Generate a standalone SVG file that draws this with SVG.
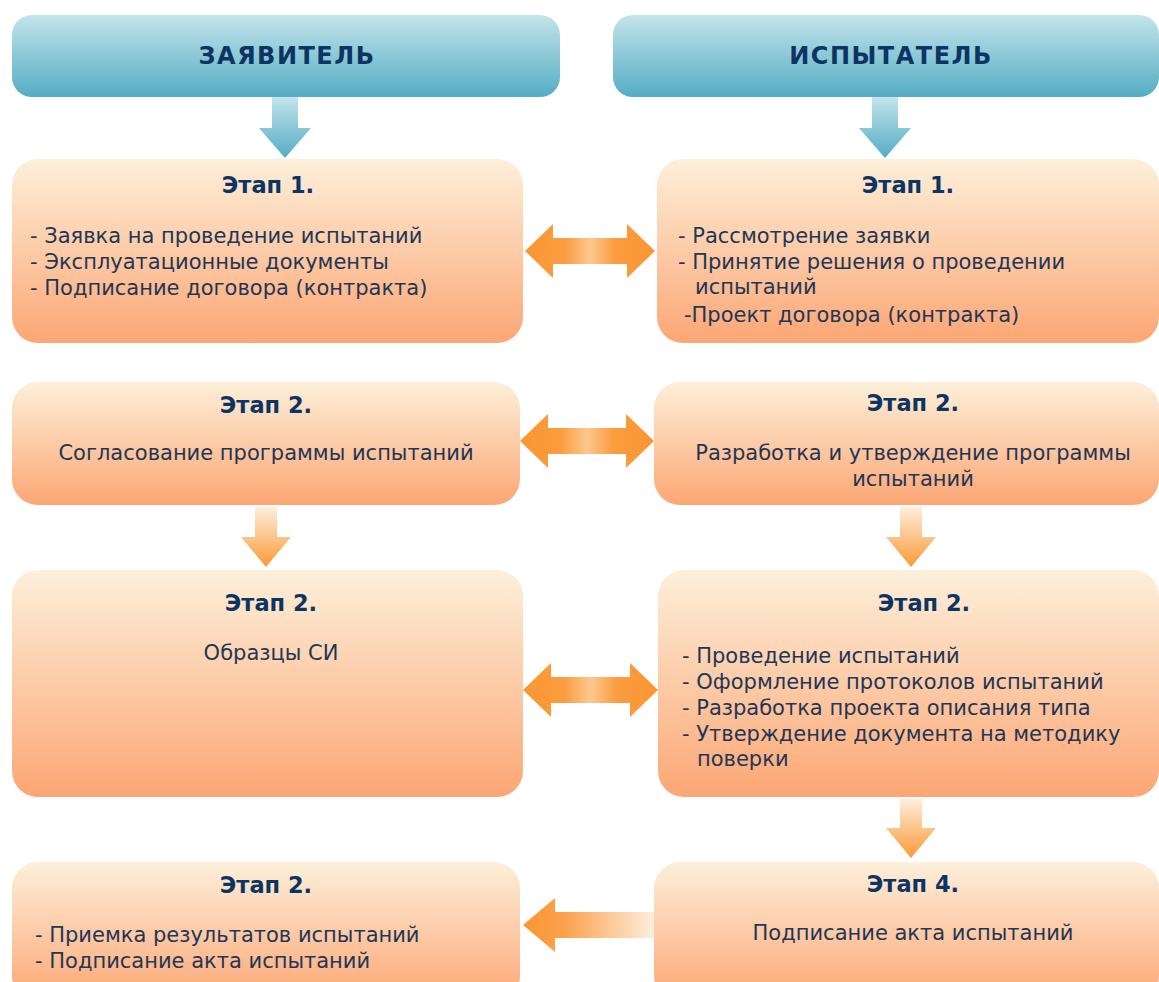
<svg xmlns="http://www.w3.org/2000/svg" width="1159" height="982" viewBox="0 0 1159 982">
<defs>
<linearGradient id="gHead" x1="0" y1="0" x2="0" y2="1"><stop offset="0" stop-color="#c3e4ea"/><stop offset="1" stop-color="#54adc4"/></linearGradient>
<linearGradient id="gBox" x1="0" y1="0" x2="0" y2="1"><stop offset="0" stop-color="#fdf0da"/><stop offset="1" stop-color="#fca674"/></linearGradient>
<linearGradient id="gDownB" x1="0" y1="0" x2="0" y2="1"><stop offset="0" stop-color="#c3e4ea"/><stop offset="1" stop-color="#54adc4"/></linearGradient>
<linearGradient id="gDownO" x1="0" y1="0" x2="0" y2="1"><stop offset="0" stop-color="#fdeedd"/><stop offset="1" stop-color="#fb9a35"/></linearGradient>
<linearGradient id="gDbl" x1="0" y1="0" x2="1" y2="0"><stop offset="0" stop-color="#fb9633"/><stop offset="0.3" stop-color="#fb9c3e"/><stop offset="0.5" stop-color="#fcc88e"/><stop offset="0.7" stop-color="#fb9c3e"/><stop offset="1" stop-color="#fb9633"/></linearGradient>
<linearGradient id="gLeft" x1="0" y1="0" x2="1" y2="0"><stop offset="0" stop-color="#fb9633"/><stop offset="0.3" stop-color="#fba04a"/><stop offset="1" stop-color="#fdeedd"/></linearGradient>
<style>
.head{font-family:"DejaVu Sans",Verdana,sans-serif;font-weight:bold;font-size:24px;fill:#0d3463;text-anchor:middle;letter-spacing:1.5px}
.ttl{font-family:"DejaVu Sans",Verdana,sans-serif;font-weight:bold;font-size:22.5px;fill:#0d3463;text-anchor:middle}
.txt{font-family:"DejaVu Sans",Verdana,sans-serif;font-size:21px;fill:#1f3656}
.c{text-anchor:middle}
</style>
</defs>

<g id="header-left"><rect x="12" y="15" width="548" height="82" rx="20" fill="url(#gHead)"/><text class="head" x="287" y="64">ЗАЯВИТЕЛЬ</text></g>
<g id="header-right"><rect x="613" y="15" width="546" height="82" rx="20" fill="url(#gHead)"/><text class="head" x="891" y="64">ИСПЫТАТЕЛЬ</text></g>

<g id="box-l1"><rect x="12" y="159" width="511" height="184" rx="26" fill="url(#gBox)"/>
<text class="ttl" x="268" y="193">Этап 1.</text>
<text class="txt" x="30" y="243">- Заявка на проведение испытаний</text>
<text class="txt" x="30" y="269">- Эксплуатационные документы</text>
<text class="txt" x="30" y="295">- Подписание договора (контракта)</text></g>

<g id="box-r1"><rect x="657" y="159" width="502" height="184" rx="26" fill="url(#gBox)"/>
<text class="ttl" x="908" y="193">Этап 1.</text>
<text class="txt" x="678" y="243">- Рассмотрение заявки</text>
<text class="txt" x="678" y="269">- Принятие решения о проведении</text>
<text class="txt" x="695" y="294">испытаний</text>
<text class="txt" x="684" y="322">-Проект договора (контракта)</text></g>

<g id="box-l2"><rect x="12" y="382" width="508" height="123" rx="26" fill="url(#gBox)"/>
<text class="ttl" x="266" y="413">Этап 2.</text>
<text class="txt c" x="266" y="460">Согласование программы испытаний</text></g>

<g id="box-r2"><rect x="654" y="382" width="505" height="123" rx="26" fill="url(#gBox)"/>
<text class="ttl" x="913" y="411">Этап 2.</text>
<text class="txt c" x="913" y="460">Разработка и утверждение программы</text>
<text class="txt c" x="913" y="486">испытаний</text></g>

<g id="box-l3"><rect x="12" y="570" width="511" height="227" rx="26" fill="url(#gBox)"/>
<text class="ttl" x="271" y="611">Этап 2.</text>
<text class="txt c" x="271" y="660">Образцы СИ</text></g>

<g id="box-r3"><rect x="658" y="570" width="501" height="227" rx="26" fill="url(#gBox)"/>
<text class="ttl" x="924" y="611">Этап 2.</text>
<text class="txt" x="682" y="663">- Проведение испытаний</text>
<text class="txt" x="682" y="689">- Оформление протоколов испытаний</text>
<text class="txt" x="682" y="715">- Разработка проекта описания типа</text>
<text class="txt" x="682" y="741">- Утверждение документа на методику</text>
<text class="txt" x="697" y="766">поверки</text></g>

<g id="box-l4"><rect x="12" y="862" width="508" height="140" rx="26" fill="url(#gBox)"/>
<text class="ttl" x="266" y="893">Этап 2.</text>
<text class="txt" x="35" y="942">- Приемка результатов испытаний</text>
<text class="txt" x="35" y="968">- Подписание акта испытаний</text></g>

<g id="box-r4"><rect x="654" y="862" width="505" height="140" rx="26" fill="url(#gBox)"/>
<text class="ttl" x="913" y="892">Этап 4.</text>
<text class="txt c" x="913" y="940">Подписание акта испытаний</text></g>

<g id="connectors">
<path d="M272 97 H298 V128 H311 L285 158 L259 128 H272 Z" fill="url(#gDownB)"/>
<path d="M872 97 H898 V128 H911 L885 158 L859 128 H872 Z" fill="url(#gDownB)"/>
<path d="M525 251 L553 224 V238 H627 V224 L655 251 L627 278 V264 H553 V278 Z" fill="url(#gDbl)"/>
<path d="M520 441 L548 414 V428 H626 V414 L654 441 L626 468 V454 H548 V468 Z" fill="url(#gDbl)"/>
<path d="M523 690 L551 663 V677 H630 V663 L658 690 L630 717 V703 H551 V717 Z" fill="url(#gDbl)"/>
<path d="M255 507 H277 V537 H291 L266 567 L241 537 H255 Z" fill="url(#gDownO)"/>
<path d="M900 507 H922 V537 H936 L911 567 L886 537 H900 Z" fill="url(#gDownO)"/>
<path d="M900 799 H922 V828 H936 L911 858 L886 828 H900 Z" fill="url(#gDownO)"/>
<path d="M523 925 L555 898 V912 H654 V938 H555 V952 Z" fill="url(#gLeft)"/>
</g>
</svg>
